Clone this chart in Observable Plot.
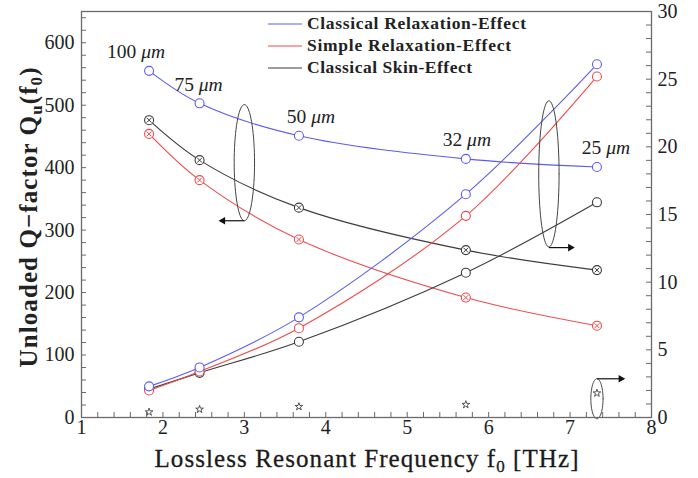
<!DOCTYPE html>
<html><head><meta charset="utf-8">
<script src="https://cdn.jsdelivr.net/npm/d3@7"></script>
<script src="https://cdn.jsdelivr.net/npm/@observablehq/plot@0.6"></script>
<style>body{margin:0;background:#fff}</style>
</head><body><div id="chart"></div>
<script>
// ---- data ----
const freq = [1.83, 2.45, 3.67, 5.72, 7.33];           // THz
const widthLabels = ["100", "75", "50", "32", "25"];   // µm
// left axis: unloaded Q
const qClassicalRelax = [555, 503, 451, 414, 401];
const qSimpleRelax    = [454, 380, 285, 192, 147];
const qSkin           = [476, 412, 336, 268, 236];
// right axis (0–30)
const rClassicalRelax = [2.3, 3.7, 7.4, 16.5, 26.1];
const rSimpleRelax    = [2.0, 3.4, 6.6, 14.9, 25.2];
const rSkin           = [2.1, 3.3, 5.6, 10.7, 15.9];
const rStar           = [0.4, 0.6, 0.8, 0.95, 1.8];
const xTicks = [1, 2, 3, 4, 5, 6, 7, 8];
const leftTicks = [0, 100, 200, 300, 400, 500, 600];
const rightTicks = [0, 5, 10, 15, 20, 25, 30];
const seriesNames = ["Classical Relaxation-Effect", "Simple Relaxation-Effect", "Classical Skin-Effect"];

// ---- layout ----
const W = 698, H = 478, ML = 81, MR = 47, MT = 11, MB = 61;
const PW = W - ML - MR, PH = H - MT - MB;
const yMax = 650, rMax = 30;
const toLeft = v => v * yMax / rMax;
const BLUE = "#5c5cf2", RED = "#f04a4a", BLACK = "#3c3c3c", AX = "#6a6a6a";
const SERIF = "'Liberation Serif', 'DejaVu Serif', serif";

const pts = (vals, conv = v => v) => freq.map((f, i) => ({x: f, y: conv(vals[i])}));

function series(vals, color, crossed, conv) {
  const d = pts(vals, conv);
  const m = [
    Plot.line(d, {x: "x", y: "y", stroke: color, strokeWidth: 1.1, curve: "catmull-rom"}),
    Plot.dot(d, {x: "x", y: "y", r: 4.5, stroke: color, strokeWidth: 1.1, fill: "white"})
  ];
  if (crossed) m.push(Plot.dot(d, {x: "x", y: "y", symbol: "times", r: 2.3, stroke: color, strokeWidth: 1}));
  return m;
}

function ellipse(cx, cy, rx, ry) {
  return d3.range(0, 73).map(k => {
    const t = k / 72 * 2 * Math.PI;
    return {x: cx + rx * Math.cos(t), y: cy + ry * Math.sin(t)};
  });
}

const xMinor = d3.range(0, 36).map(i => 1 + i * 0.2);
const yMinor = d3.range(0, 33).map(i => i * 20);
const rMinor = d3.range(0, 31);

const labelDx = [-13, -1, 12, 1, 9];

const annotations = [
  {e: ellipse(3.0, 408, 0.125, 93), a: {x1: 3.0, y1: 315, x2: 2.7}, dir: -1},
  {e: ellipse(6.74, 390, 0.125, 117), a: {x1: 6.74, y1: 272, x2: 7.04}, dir: 1},
  {e: ellipse(7.33, 30, 0.075, 32), a: {x1: 7.33, y1: 62, x2: 7.66}, dir: 1}
];

const plot = Plot.plot({
  width: W, height: H,
  marginLeft: ML, marginRight: MR, marginTop: MT, marginBottom: MB,
  style: {fontFamily: SERIF, background: "white"},
  x: {domain: [1, 8], axis: null},
  y: {domain: [0, yMax], axis: null},
  marks: [
    // ticks (inward)
    Plot.tickX(xMinor, {x: d => d, insetTop: PH - 5, stroke: AX}),
    Plot.tickY(yMinor, {y: d => d, insetRight: PW - 5, stroke: AX}),
    Plot.tickY(rMinor, {y: d => toLeft(d), insetLeft: PW - 5, stroke: AX}),
    // tick labels
    Plot.text(xTicks, {x: d => d, frameAnchor: "bottom", dy: 16, fontSize: 20, fill: "#222"}),
    Plot.text(leftTicks, {y: d => d, frameAnchor: "left", dx: -7, textAnchor: "end", fontSize: 20, fill: "#222"}),
    Plot.text(rightTicks, {y: d => toLeft(d), frameAnchor: "right", dx: 6, textAnchor: "start", fontSize: 20, fill: "#222"}),
    // series, left axis
    ...series(qClassicalRelax, BLUE, false),
    ...series(qSkin, BLACK, true),
    ...series(qSimpleRelax, RED, true),
    // series, right axis
    ...series(rSkin, BLACK, false, toLeft),
    ...series(rSimpleRelax, RED, false, toLeft),
    ...series(rClassicalRelax, BLUE, false, toLeft),
    Plot.dot(pts(rStar, toLeft), {x: "x", y: "y", symbol: "star", r: 2.4, stroke: "#444", strokeWidth: 0.9}),
    // width labels
    ...widthLabels.map((w, i) => Plot.text([w], {
      x: freq[i], y: qClassicalRelax[i], dx: labelDx[i], dy: -19,
      text: d => d + " μm", fontSize: 19.5, fill: "#222"
    })),
    // ellipses + arrows
    ...annotations.flatMap(({e, a, dir}) => [
      Plot.line(e, {x: "x", y: "y", stroke: "#444", strokeWidth: 1}),
      Plot.link([a], {x1: "x1", y1: "y1", x2: "x2", y2: "y1", stroke: "#111", strokeWidth: 1.2}),
      Plot.dot([a], {x: "x2", y: "y1", symbol: "triangle2", r: 3.6, fill: "#111", rotate: dir * 90, dx: -dir * 3})
    ]),
    // axis titles
    Plot.text(["YTITLE"], {frameAnchor: "left", dx: -53, dy: 3, textAnchor: "middle", rotate: -90, fontSize: 25, fontWeight: "bold", fill: "#222", text: d => d}),
    Plot.text(["XTITLE"], {frameAnchor: "bottom", dy: 49, textAnchor: "middle", fontSize: 25, fill: "#1a1a1a", stroke: "#1a1a1a", strokeWidth: 0.3, text: d => d}),
    Plot.frame({stroke: AX, strokeWidth: 1.3})
  ]
});

const svg = d3.select(plot);

// italic µm
svg.selectAll("text").filter(function () { return / μm$/.test(this.textContent); }).each(function () {
  const t = d3.select(this); const num = t.text().split(" ")[0];
  t.text(null);
  t.append("tspan").text(num + " ");
  t.append("tspan").attr("font-style", "italic").text("μm");
});

function rich(key, parts, len) {
  svg.selectAll("text").filter(function () { return this.textContent === key; }).each(function () {
    const t = d3.select(this); t.text(null);
    parts.forEach(([s, sub]) => {
      const ts = t.append("tspan").text(s);
      if (sub) ts.attr("font-size", "17px").attr("dy", "5");
      else if (sub === false) ts.attr("dy", "-5");
    });
    t.attr("textLength", len).attr("lengthAdjust", "spacing");
  });
}
rich("YTITLE", [["Unloaded Q−factor Q", null], ["u", true], ["(f", false], ["0", true], [")", false]], 300);
rich("XTITLE", [["Lossless Resonant Frequency f", null], ["0", true], [" [THz]", false]], 424);

// legend (inside plot, top)
const colors = [BLUE, RED, BLACK];
const legendLen = [219, 204, 165];
const lg = svg.append("g").attr("font-family", SERIF).attr("font-size", 17.5).attr("font-weight", "bold").attr("text-anchor", "start");
seriesNames.forEach((n, i) => {
  const y = 24 + i * 22;
  lg.append("line").attr("x1", 268).attr("x2", 302).attr("y1", y).attr("y2", y).attr("stroke", colors[i]).attr("stroke-width", 1.2);
  lg.append("text").attr("x", 307).attr("y", y + 5).attr("fill", "#222").attr("textLength", legendLen[i]).attr("lengthAdjust", "spacing").text(n);
});

document.getElementById("chart").append(plot);
</script>
</body></html>
